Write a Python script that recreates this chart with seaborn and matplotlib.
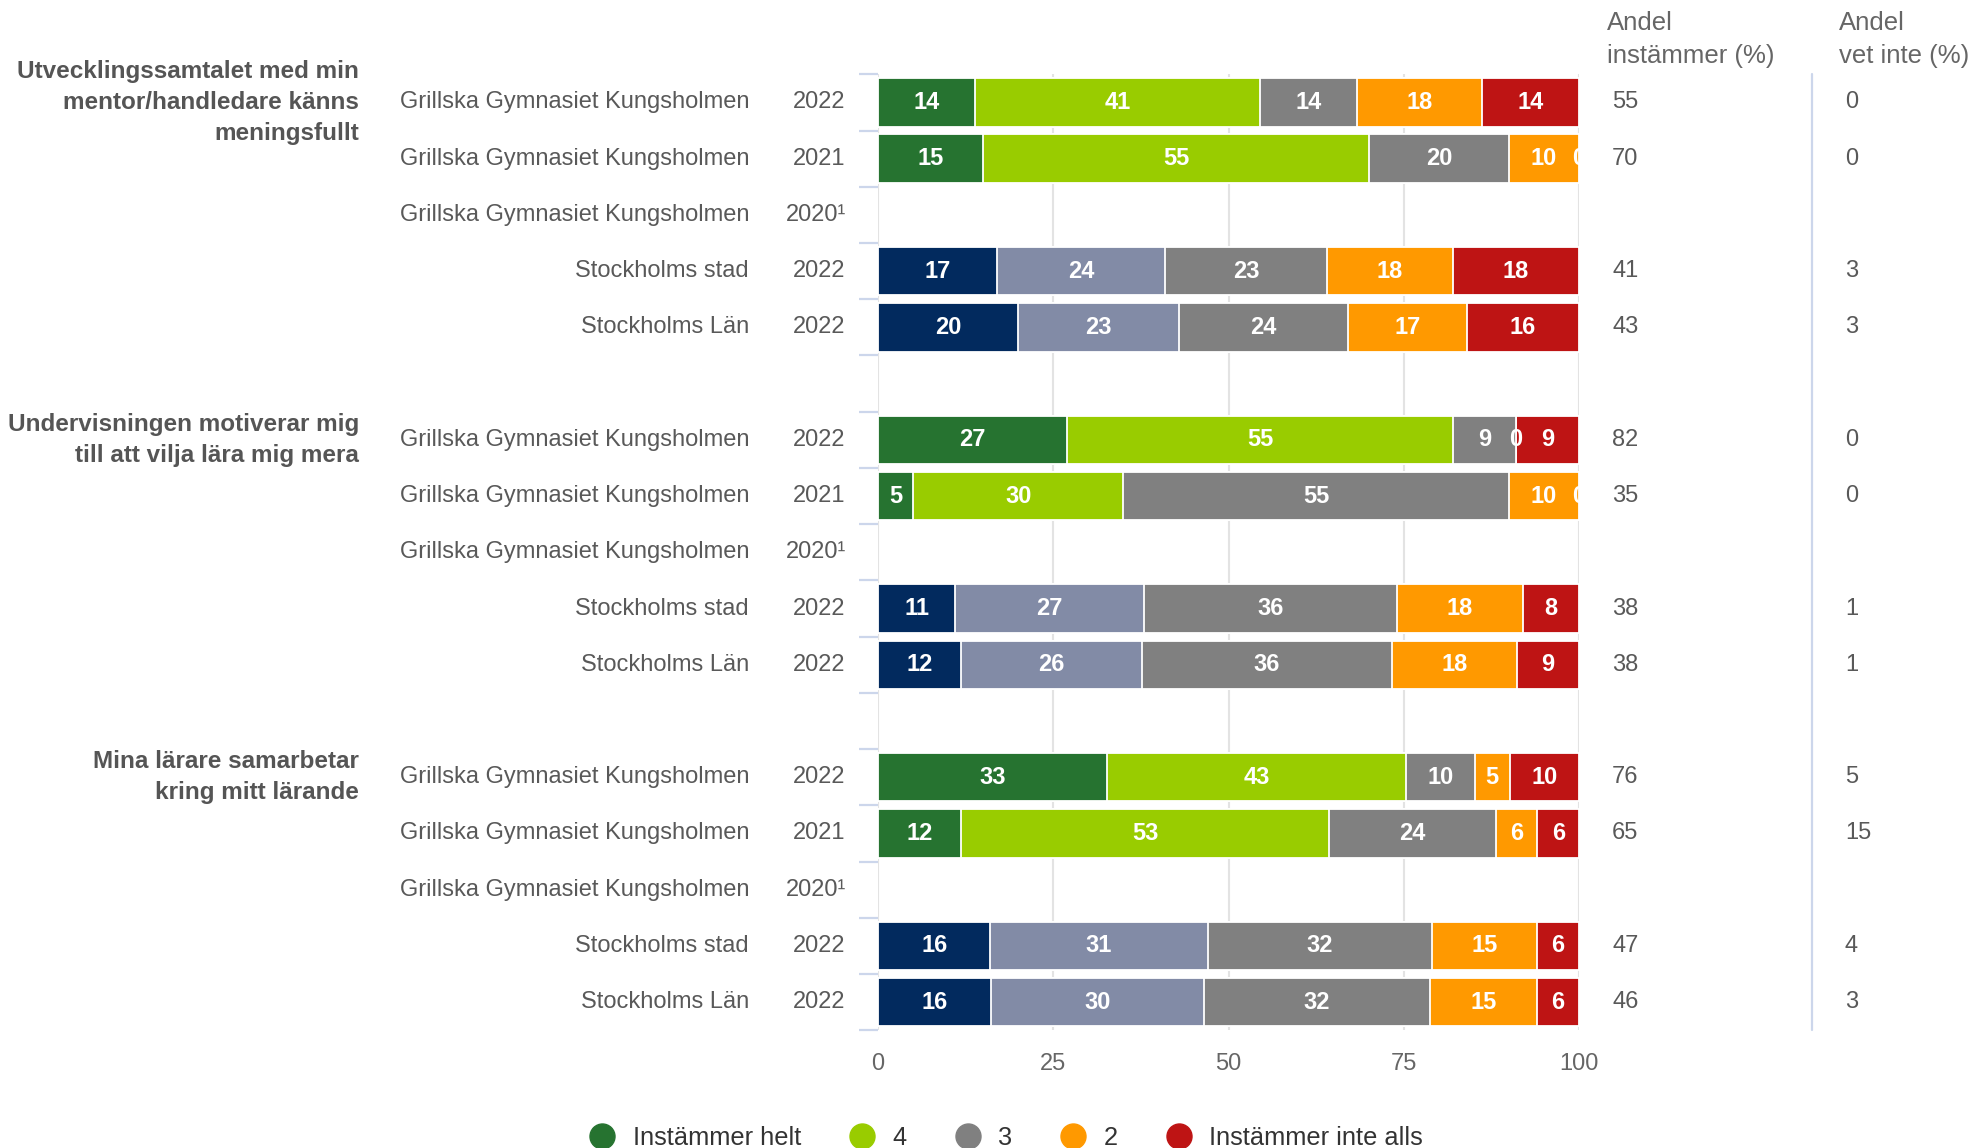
import numpy as np
import pandas as pd
import matplotlib
matplotlib.use("Agg")
import matplotlib.pyplot as plt
from matplotlib.lines import Line2D
import seaborn as sns

# ---------------- data ----------------
questions = [
    "Utvecklingssamtalet med min\nmentor/handledare känns\nmeningsfullt",
    "Undervisningen motiverar mig\ntill att vilja lära mig mera",
    "Mina lärare samarbetar\nkring mitt lärande",
]
units = ["Grillska Gymnasiet Kungsholmen", "Grillska Gymnasiet Kungsholmen",
         "Grillska Gymnasiet Kungsholmen", "Stockholms stad", "Stockholms Län"]
years = ["2022", "2021", "2020¹", "2022", "2022"]
unit_is_school = [True, True, True, False, False]

segments = ["Instämmer helt", "4", "3", "2", "Instämmer inte alls"]

# one entry per row (3 questions x 5 rows); None = no data
helt = [14, 15, None, 17, 20,   27, 5, None, 11, 12,   33, 12, None, 16, 16]
four = [41, 55, None, 24, 23,   55, 30, None, 27, 26,  43, 53, None, 31, 30]
three = [14, 20, None, 23, 24,  9, 55, None, 36, 36,   10, 24, None, 32, 32]
two = [18, 10, None, 18, 17,    0, 10, None, 18, 18,   5, 6, None, 15, 15]
inte = [14, 0, None, 18, 16,    9, 0, None, 8, 9,      10, 6, None, 6, 6]
andel_instammer = [55, 70, None, 41, 43,  82, 35, None, 38, 38,  76, 65, None, 47, 46]
andel_vet_inte = [0, 0, None, 3, 3,       0, 0, None, 1, 1,      5, 15, None, 4, 3]

school_colors = ["#267330", "#99CC00", "#808080", "#FF9900", "#BE1414"]
region_colors = ["#022A5E", "#828BA6", "#808080", "#FF9900", "#BE1414"]

# ---------------- layout of slots ----------------
n_slots = 17
slot_ids = [f"s{i}" for i in range(n_slots)]
rows = []
for g in range(3):
    for r in range(5):
        i = g * 5 + r
        rows.append(dict(idx=i, slot=g * 6 + r, school=unit_is_school[r]))

sns.set_theme(style="white")
plt.rcParams["font.family"] = ["Liberation Sans", "DejaVu Sans"]

fig = plt.figure(figsize=(19.87, 11.48), dpi=100)
ax = fig.add_axes([0.4419, 0.1025, 0.3528, 0.8328])

seg_lists = [helt, four, three, two, inte]
data_rows = [r for r in rows if helt[r["idx"]] is not None]
vals = np.array([[seg_lists[k][r["idx"]] for k in range(5)] for r in data_rows], dtype=float)
norm = vals / vals.sum(axis=1, keepdims=True) * 100
cum = norm.cumsum(axis=1)
row_slots = [slot_ids[r["slot"]] for r in data_rows]

for k in range(4, -1, -1):
    d = pd.DataFrame({"slot": row_slots, "value": cum[:, k]})
    pal = {s: (school_colors[k] if r["school"] else region_colors[k])
           for s, r in zip(row_slots, data_rows)}
    sns.barplot(data=d, x="value", y="slot", order=slot_ids, hue="slot",
                palette=pal, dodge=False, legend=False, width=0.86,
                saturation=1, edgecolor="white", linewidth=1.3, ax=ax, zorder=2)

# segment labels
for j, r in enumerate(data_rows):
    for k in range(5):
        xc = cum[j, k] - norm[j, k] / 2
        ax.text(xc, r["slot"], f"{int(vals[j, k])}", ha="center", va="center",
                color="white", fontsize=17, fontweight="bold", zorder=5, clip_on=True)

ax.set_xlim(0, 100)
ax.set_ylim(n_slots - 0.5, -0.5)
ax.set_xticks([0, 25, 50, 75, 100])
ax.set_xticklabels(["0", "25", "50", "75", "100"])
ax.grid(axis="x", color="#e3e3e3", linewidth=1.5)
ax.grid(axis="y", visible=False)
ax.set_axisbelow(True)
for s in ax.spines.values():
    s.set_visible(False)
ax.set_xlabel("")
ax.set_ylabel("")
ax.set_yticks(range(n_slots))
ax.set_yticklabels([])
ax.set_yticks(np.arange(-0.5, n_slots, 1), minor=True)
ax.tick_params(axis="y", which="major", length=0, left=False)
ax.tick_params(axis="y", which="minor", length=14, width=1.6, color="#ccd6eb", left=True)
ax.tick_params(axis="x", length=0, pad=16, labelsize=17, labelcolor="#666666")

# row labels and right columns
tr = ax.get_yaxis_transform()
label_color = "#595959"
for g in range(3):
    ax.text(-0.740, g * 6, questions[g], transform=tr, ha="right", va="center",
            fontsize=17.5, fontweight="bold", color="#555555", linespacing=1.44)
for r in rows:
    i, y = r["idx"], r["slot"]
    ur = i % 5
    ax.text(-0.184, y, units[ur], transform=tr, ha="right", va="center",
            fontsize=17, color=label_color)
    ax.text(-0.046, y, years[ur], transform=tr, ha="right", va="center",
            fontsize=17, color=label_color)
    if andel_instammer[i] is not None:
        ax.text(1.047, y, str(andel_instammer[i]), transform=tr, ha="left",
                va="center", fontsize=17, color=label_color)
        ax.text(1.379, y, str(andel_vet_inte[i]), transform=tr, ha="left",
                va="center", fontsize=17, color=label_color)

ax.plot([1.332, 1.332], [-0.5, n_slots - 0.5], transform=tr, color="#ccd6eb",
        linewidth=1.6, clip_on=False)

hdr = dict(ha="left", va="center", fontsize=18.5, color="#666666")
fig.text(1607 / 1987, 1 - 22.5 / 1148, "Andel", **hdr)
fig.text(1607 / 1987, 1 - 55.5 / 1148, "instämmer (%)", **hdr)
fig.text(1839 / 1987, 1 - 22.5 / 1148, "Andel", **hdr)
fig.text(1839 / 1987, 1 - 55.5 / 1148, "vet inte (%)", **hdr)

# legend
handles = [Line2D([], [], marker="o", ls="", markersize=18,
                  markerfacecolor=c, markeredgecolor=c) for c in school_colors]
fig.legend(handles, segments, loc="center", bbox_to_anchor=(0.5065, 0.0088), ncol=5,
           frameon=False, fontsize=18.3, handlelength=1.0, handletextpad=0.7,
           columnspacing=1.9, labelcolor="#333333", borderpad=0)

fig.savefig("out.png", dpi=100)
